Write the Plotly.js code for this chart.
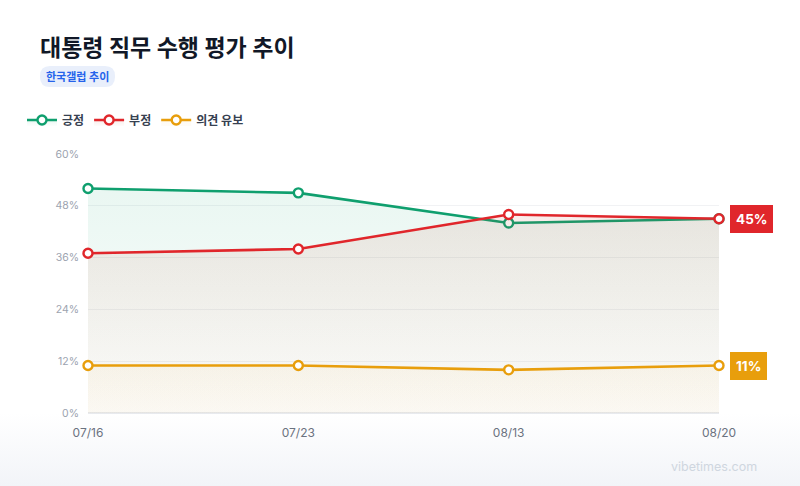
<!DOCTYPE html>
<html>
<head>
<meta charset="utf-8">
<script src="https://cdn.plot.ly/plotly-3.0.1.min.js"></script>
<style>
html,body{margin:0;padding:0}
body{width:800px;height:486px;background:linear-gradient(to bottom,#ffffff 0%,#ffffff 85%,#f2f4f8 100%)}
#chart{width:800px;height:486px}
</style>
</head>
<body>
<div id="chart"></div>
<script>
// 한국갤럽 대통령 직무 수행 평가 (%)
const dates=["07/16","07/23","08/13","08/20"]
const positive=[52,51,44,45]
const negative=[37,38,46,45]
const undecided=[11,11,10,11]
const yTicks=[0,12,24,36,48,60]

const FONT="Inter, 'Noto Sans CJK KR', sans-serif"

function series(name,values,color,fillTop,fillBottom){
return {
x:dates,
y:values,
name:name,
type:"scatter",
mode:"lines+markers",
line:{color:color,width:2.6},
marker:{size:9,color:"#ffffff",line:{color:color,width:2.4}},
fill:"tozeroy",
fillgradient:{type:"vertical",colorscale:[[0,fillBottom],[1,fillTop]]},
cliponaxis:false,
hoverinfo:"skip"
}
}

let traces=[
series("긍정",positive,"#0f9f6e","rgba(16,163,110,0.09)","rgba(16,163,110,0.01)"),
series("부정",negative,"#e0262b","rgba(190,60,40,0.10)","rgba(210,110,60,0.02)"),
series("의견 유보",undecided,"#e89e0c","rgba(234,160,11,0.05)","rgba(234,160,11,0.03)")
]

let last=dates.length-1

let layout={
width:800,
height:486,
paper_bgcolor:"rgba(0,0,0,0)",
plot_bgcolor:"rgba(0,0,0,0)",
font:{family:FONT,color:"#374151"},
margin:{l:88,r:81,t:154,b:73},
title:{
text:"<b>대통령 직무 수행 평가 추이</b>",
font:{size:23,color:"#111827",family:FONT},
x:40/800,xanchor:"left",xref:"container",
y:1-48/486,yanchor:"middle",yref:"container"
},
showlegend:true,
legend:{
orientation:"h",
xref:"container",yref:"container",
x:22/800,xanchor:"left",
y:1-120/486,yanchor:"middle",
font:{size:12,color:"#374151",family:FONT,weight:700},
itemclick:false,
traceorder:"normal"
},
xaxis:{
type:"category",
range:[0,last],
showgrid:false,
zeroline:false,
showline:false,
ticks:"",
ticklabelstandoff:11,
tickfont:{size:12,color:"#6b7280",family:FONT},
fixedrange:true
},
yaxis:{
range:[0,60],
tickvals:yTicks,
ticktext:yTicks.map(v=>v+"%"),
showgrid:true,
gridcolor:"#f1f2f4",
gridwidth:1,
zeroline:true,
zerolinecolor:"#e8eaee",
zerolinewidth:1.5,
ticks:"",
ticklabelstandoff:8,
tickfont:{size:10.5,color:"#9ca3af",family:FONT},
fixedrange:true
},
shapes:[{
type:"path",xref:"paper",yref:"paper",
path:roundRect(40,66,115,87,10),
fillcolor:"#e9effb",line:{width:0},layer:"below"
}],
annotations:[
{
text:"<b>한국갤럽 추이</b>",
xref:"paper",yref:"paper",
x:px(77.5),y:py(77),xanchor:"center",yanchor:"middle",
showarrow:false,
font:{size:11,color:"#2563eb",family:FONT}
},
{
text:"<b>"+negative[last]+"%</b>",
x:dates[last],y:negative[last],
xanchor:"left",yanchor:"middle",xshift:11,
showarrow:false,
bgcolor:"#e0262b",bordercolor:"#e0262b",borderpad:5,
font:{size:13.5,color:"#ffffff",family:FONT}
},
{
text:"<b>"+undecided[last]+"%</b>",
x:dates[last],y:undecided[last],
xanchor:"left",yanchor:"middle",xshift:11,
showarrow:false,
bgcolor:"#e89e0c",bordercolor:"#e89e0c",borderpad:5,
font:{size:13.5,color:"#ffffff",family:FONT}
},
{
text:"vibetimes.com",
xref:"paper",yref:"paper",
x:px(759),y:py(466),xanchor:"right",yanchor:"middle",
showarrow:false,
font:{size:12.5,color:"#cfd6df",family:FONT}
}
]
}

// pixel -> paper helpers for the header pieces
function px(v){return (v-88)/(800-88-81)}
function py(v){return (486-73-v)/(486-154-73)}
function roundRect(x0,y0,x1,y1,r){
let a=px(x0),b=px(x1),c=py(y0),d=py(y1)
let rx=r/631,ry=r/259
return "M"+(a+rx)+","+c+" L"+(b-rx)+","+c+" Q"+b+","+c+" "+b+","+(c-ry)+
" L"+b+","+(d+ry)+" Q"+b+","+d+" "+(b-rx)+","+d+
" L"+(a+rx)+","+d+" Q"+a+","+d+" "+a+","+(d+ry)+
" L"+a+","+(c-ry)+" Q"+a+","+c+" "+(a+rx)+","+c+" Z"
}

Plotly.newPlot("chart",traces,layout,{displayModeBar:false,staticPlot:true})
</script>
</body>
</html>
